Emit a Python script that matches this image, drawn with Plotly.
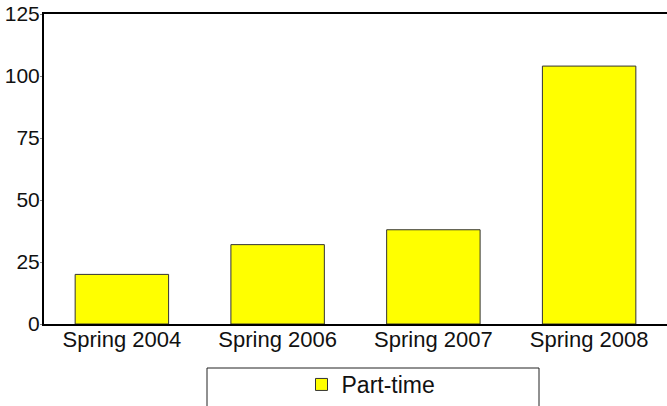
import plotly.graph_objects as go

categories = ["Spring 2004", "Spring 2006", "Spring 2007", "Spring 2008"]
part_time = [20, 32, 38, 104]
y_ticks = [0, 25, 50, 75, 100, 125]

W, H = 667, 406
L, R, T, B = 44, 0, 14, 82
pw = W - L - R
ph = H - T - B

def px_to_paper_x(px):
    return (px - L) / pw

def px_to_paper_y(py):
    return (H - B - py) / ph

fig = go.Figure()
fig.add_trace(go.Bar(
    x=categories,
    y=part_time,
    name="Part-time",
    marker=dict(color="#FFFF00", line=dict(color="#333333", width=1)),
))

fig.update_layout(
    width=W, height=H,
    margin=dict(l=L, r=R, t=T, b=B, autoexpand=False),
    paper_bgcolor="white",
    plot_bgcolor="white",
    bargap=0.4,
    font=dict(family="Liberation Sans, Arial, sans-serif", size=22, color="#111111"),
    showlegend=True,
    legend=dict(
        x=px_to_paper_x(371), xanchor="center",
        y=px_to_paper_y(363), yanchor="top",
        orientation="h",
        font=dict(size=23),
        bgcolor="rgba(0,0,0,0)",
        borderwidth=0,
    ),
    shapes=[dict(
        type="rect", xref="paper", yref="paper",
        x0=px_to_paper_x(207), x1=px_to_paper_x(539),
        y0=px_to_paper_y(368), y1=px_to_paper_y(420),
        line=dict(color="#222222", width=1),
        fillcolor="rgba(0,0,0,0)",
        layer="below",
    )],
)

fig.update_xaxes(
    showline=True, linecolor="black", linewidth=2, mirror=True,
    showgrid=False, ticks="", tickfont=dict(size=22), automargin=False,
    ticklabelstandoff=-5,
)
fig.update_yaxes(
    range=[0, 125], tickvals=y_ticks,
    showline=True, linecolor="black", linewidth=2, mirror=False,
    showgrid=False, zeroline=False,
    ticks="outside", ticklen=2, tickcolor="#888888",
    tickfont=dict(size=21), automargin=False,
    ticklabelstandoff=-4, ticklabeloverflow="allow",
)

fig.write_html(
    "out.html",
    config={"displayModeBar": False},
    post_script="document.body.style.margin='0';document.body.style.overflow='hidden';",
)
